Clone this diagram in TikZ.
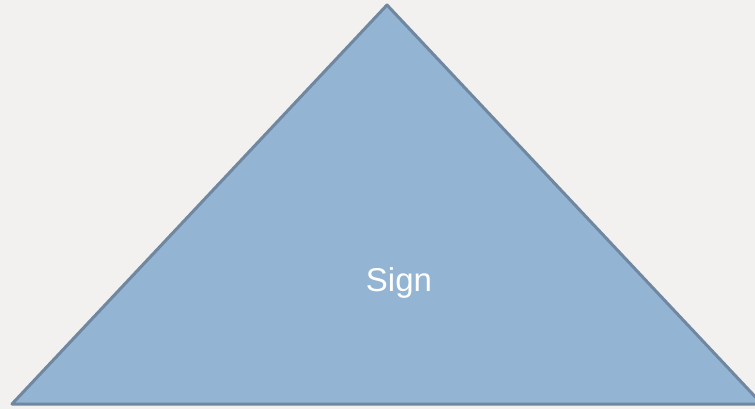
\documentclass[tikz,border=0pt]{standalone}
\usepackage{fontspec}
\setmainfont{Liberation Sans}
\definecolor{bg}{HTML}{F2F1EF}
\definecolor{trifill}{HTML}{93B4D2}
\definecolor{tristroke}{HTML}{6F87A0}
\tikzset{tri/.style={fill=trifill,draw=tristroke,line width=3pt,line join=round}}
\begin{document}
\begin{tikzpicture}[x=1pt,y=-1pt]
\fill[bg] (0,0) rectangle (755,409);
\useasboundingbox (0,0) rectangle (755,409);
\coordinate (apex) at (387,5);
\coordinate (bl) at (12,404);
\coordinate (br) at (762,404);
\draw[tri] (apex) -- (br) -- (bl) -- cycle;
\node[text=white,font=\fontsize{33}{39}\selectfont,inner sep=0pt] (sign) at (399,283) {Sign};
\end{tikzpicture}
\end{document}
